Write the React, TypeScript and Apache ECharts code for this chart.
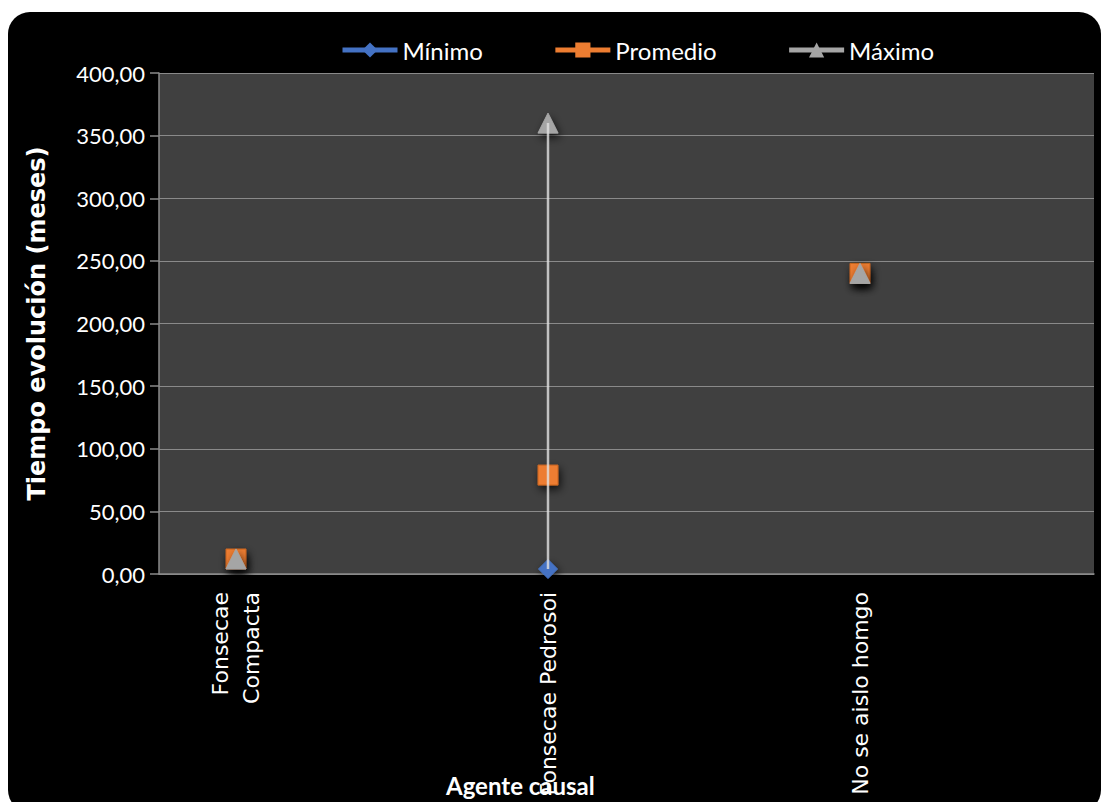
import React, { useEffect, useRef } from "react";
import * as echarts from "echarts";

// Causal agent categories and evolution time (months) per agent
const categories = ["Fonsecae\nCompacta", "Fonsecae Pedrosoi", "No se aislo homgo"];
const minimo = [12, 4, 240];
const promedio = [12, 79, 240];
const maximo = [12, 360, 240];

const seriesNames = ["Mínimo", "Promedio", "Máximo"];
const seriesColors = ["#4472C4", "#ED7D31", "#A5A5A5"];
const seriesSymbols = ["diamond", "rect", "triangle"];

const yMin = 0;
const yMax = 400;
const yStep = 50;

const fmt = (v: number) => v.toFixed(2).replace(".", ",");

export default function App() {
  const ref = useRef<HTMLDivElement>(null);

  useEffect(() => {
    if (!ref.current) return;
    const chart = echarts.init(ref.current, null, { renderer: "svg" });

    const valueSets = [minimo, promedio, maximo];
    const markerSeries = valueSets.map((vals, s) => ({
      name: seriesNames[s],
      type: "line",
      data: vals.map((v, i) => [i, v]),
      symbol: seriesSymbols[s],
      symbolSize: s === 0 ? 19 : 20,
      z: 2 + s,
      lineStyle: { width: 0, color: seriesColors[s] },
      itemStyle: {
        color: seriesColors[s],
        borderColor: s === 1 ? "#C9651F" : seriesColors[s],
        borderWidth: 1,
        shadowBlur: 8,
        shadowColor: "rgba(0,0,0,0.75)",
        shadowOffsetX: 2,
        shadowOffsetY: 4,
      },
      emphasis: { disabled: true },
    }));

    // High-low lines joining the minimum and maximum of each agent
    const rangeSeries = {
      type: "custom",
      z: 10,
      data: categories.map((_, i) => [i, minimo[i], maximo[i]]),
      encode: { x: 0, y: [1, 2] },
      renderItem: (_params: any, api: any) => {
        const x = api.value(0);
        const lo = api.value(1);
        const hi = api.value(2);
        if (hi <= lo) return null;
        const p1 = api.coord([x, lo]);
        const p2 = api.coord([x, hi]);
        return {
          type: "line",
          shape: { x1: p1[0], y1: p1[1], x2: p2[0], y2: p2[1] },
          style: { stroke: "rgba(225,225,225,0.8)", lineWidth: 2.5 },
        };
      },
      silent: true,
    };

    chart.setOption({
      animation: false,
      backgroundColor: "transparent",
      textStyle: { fontFamily: "Lato" },
      title: {
        text: "Agente causal",
        left: 433,
        top: 756,
        textStyle: { color: "#FFFFFF", fontFamily: "Lato", fontWeight: "bold", fontSize: 24 },
      },
      legend: {
        left: 327,
        top: 21,
        itemWidth: 55,
        itemHeight: 19,
        itemGap: 70,
        data: seriesNames,
        textStyle: { color: "#FFFFFF", fontFamily: "Lato", fontSize: 24 },
        lineStyle: { width: 5 },
        itemStyle: { shadowBlur: 0, borderWidth: 0 },
      },
      grid: {
        left: 151,
        right: 7,
        top: 61,
        bottom: 228,
        show: true,
        backgroundColor: "#404040",
        borderWidth: 0,
      },
      xAxis: {
        type: "value",
        min: -0.2468,
        max: 2.75,
        splitLine: { show: false },
        axisTick: { show: false },
        axisLine: { show: true, onZero: false, lineStyle: { color: "#8A8A8A", width: 1.5 } },
        axisLabel: {
          customValues: [0, 1, 2],
          formatter: (v: number) => categories[Math.round(v)] ?? "",
          rotate: 90,
          margin: 18,
          color: "#FFFFFF",
          fontFamily: "DejaVu Sans",
          fontSize: 22,
          lineHeight: 31,
        },
      },
      yAxis: {
        type: "value",
        min: yMin,
        max: yMax,
        interval: yStep,
        name: "Tiempo evolución (meses)",
        nameLocation: "middle",
        nameGap: 110,
        nameTextStyle: { color: "#FFFFFF", fontFamily: "DejaVu Sans", fontWeight: "bold", fontSize: 24 },
        axisLine: { show: true, onZero: false, lineStyle: { color: "#8A8A8A", width: 1.5 } },
        axisTick: { show: true, inside: false, length: 9, lineStyle: { color: "#8A8A8A", width: 1.5 } },
        splitLine: { show: true, lineStyle: { color: "#8A8A8A", width: 1.2 } },
        axisLabel: {
          formatter: fmt,
          margin: 14,
          color: "#FFFFFF",
          fontFamily: "Lato",
          fontSize: 22,
        },
      },
      series: [...markerSeries, rangeSeries],
    });

    return () => chart.dispose();
  }, []);

  return (
    <div
      style={{
        position: "fixed",
        left: 8,
        top: 12,
        width: 1093,
        height: 800,
        background: "#000000",
        borderRadius: 22,
        overflow: "hidden",
      }}
    >
      <div ref={ref} style={{ width: 1093, height: 790 }} />
    </div>
  );
}
